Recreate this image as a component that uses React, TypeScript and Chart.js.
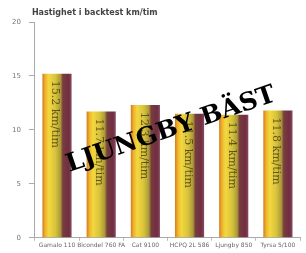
import React, { useEffect, useRef } from "react";
import { Chart, registerables } from "chart.js";

Chart.register(...registerables);

const categories = ["Gamalo 110", "Bicondel 760 FA", "Cat 9100", "HCPQ 2L 586", "Ljungby 850", "Tyrsa 5/100"];
const speeds = [15.2, 11.7, 12.3, 11.5, 11.4, 11.8];
const yTicks = [0, 5, 10, 15, 20];
const chartTitle = "Hastighet i backtest km/tim";
const stampText = "LJUNGBY BÄST";
const unit = "km/tim";

const barPct = 0.66;

export default function App() {
  const ref = useRef<HTMLCanvasElement>(null);
  useEffect(() => {
    document.body.style.margin = "0";
    const canvas = ref.current!;
    const overlay = {
      id: "overlay",
      afterDatasetsDraw(chart: any) {
        const ctx = chart.ctx;
        const meta = chart.getDatasetMeta(0);
        ctx.save();
        meta.data.forEach((el: any, i: number) => {
          ctx.save();
          ctx.translate(el.x - 1, el.y + 7);
          ctx.rotate(Math.PI / 2);
          ctx.fillStyle = "rgba(60,48,10,0.75)";
          ctx.font = "11px 'DejaVu Serif'";
          ctx.textBaseline = "middle";
          ctx.textAlign = "left";
          ctx.fillText(speeds[i].toFixed(1) + " " + unit, 0, 1);
          ctx.restore();
        });
        // title
        ctx.fillStyle = "#444";
        ctx.font = "bold 8px 'DejaVu Sans'";
        ctx.textAlign = "left";
        ctx.textBaseline = "middle";
        ctx.fillText(chartTitle, chart.chartArea.left - 3, 13);
        // stamp
        ctx.translate(171, 130);
        ctx.rotate((-19 * Math.PI) / 180);
        ctx.fillStyle = "#000";
        ctx.font = "bold 25px 'DejaVu Serif'";
        ctx.textAlign = "center";
        ctx.textBaseline = "middle";
        ctx.fillText(stampText, 0, 0);
        ctx.restore();
      },
    };
    const chart = new Chart(canvas, {
      type: "bar",
      data: {
        labels: categories,
        datasets: [
          {
            data: speeds,
            barPercentage: barPct,
            categoryPercentage: 1,
            backgroundColor: (c: any) => {
              const ch = c.chart;
              const xs = ch.scales?.x;
              if (!xs || !ch.chartArea) return "#e0c040";
              const cx = xs.getPixelForValue(c.dataIndex);
              const w = (xs.width / categories.length) * barPct;
              const g = ch.ctx.createLinearGradient(cx - w / 2, 0, cx + w / 2, 0);
              g.addColorStop(0, "#d27a22");
              g.addColorStop(0.1, "#f0b42a");
              g.addColorStop(0.22, "#f2d840");
              g.addColorStop(0.45, "#d8c23a");
              g.addColorStop(0.62, "#a89a3a");
              g.addColorStop(0.7, "#7a3c3c");
              g.addColorStop(0.9, "#6e2e44");
              g.addColorStop(1, "#8a4a5a");
              return g;
            },
            borderWidth: 0,
          },
        ],
      },
      options: {
        animation: false,
        responsive: false,
        maintainAspectRatio: false,
        layout: { padding: { top: 22, right: 6, left: 4, bottom: 3 } },
        plugins: { legend: { display: false }, tooltip: { enabled: false }, title: { display: false } },
        scales: {
          x: {
            grid: { display: true, drawOnChartArea: false, tickLength: 3, color: "#bbb" },
            border: { color: "#aaa" },
            ticks: { color: "#666", font: { size: 6, family: "'DejaVu Sans'" }, maxRotation: 0, autoSkip: false, padding: 1 },
          },
          y: {
            min: 0,
            max: 20,
            afterBuildTicks: (s: any) => {
              s.ticks = yTicks.map((v) => ({ value: v }));
            },
            grid: { display: true, drawOnChartArea: false, tickLength: 6, color: "#aaa" },
            border: { color: "#aaa" },
            ticks: { color: "#777", font: { size: 7, family: "'DejaVu Sans'" }, padding: 8 },
          },
        },
      },
      plugins: [overlay],
    });
    return () => chart.destroy();
  }, []);
  return (
    <div style={{ position: "absolute", left: 0, top: 0, width: 306, height: 253, background: "#fff" }}>
      <canvas ref={ref} width={306} height={253} style={{ width: 306, height: 253 }} />
    </div>
  );
}
